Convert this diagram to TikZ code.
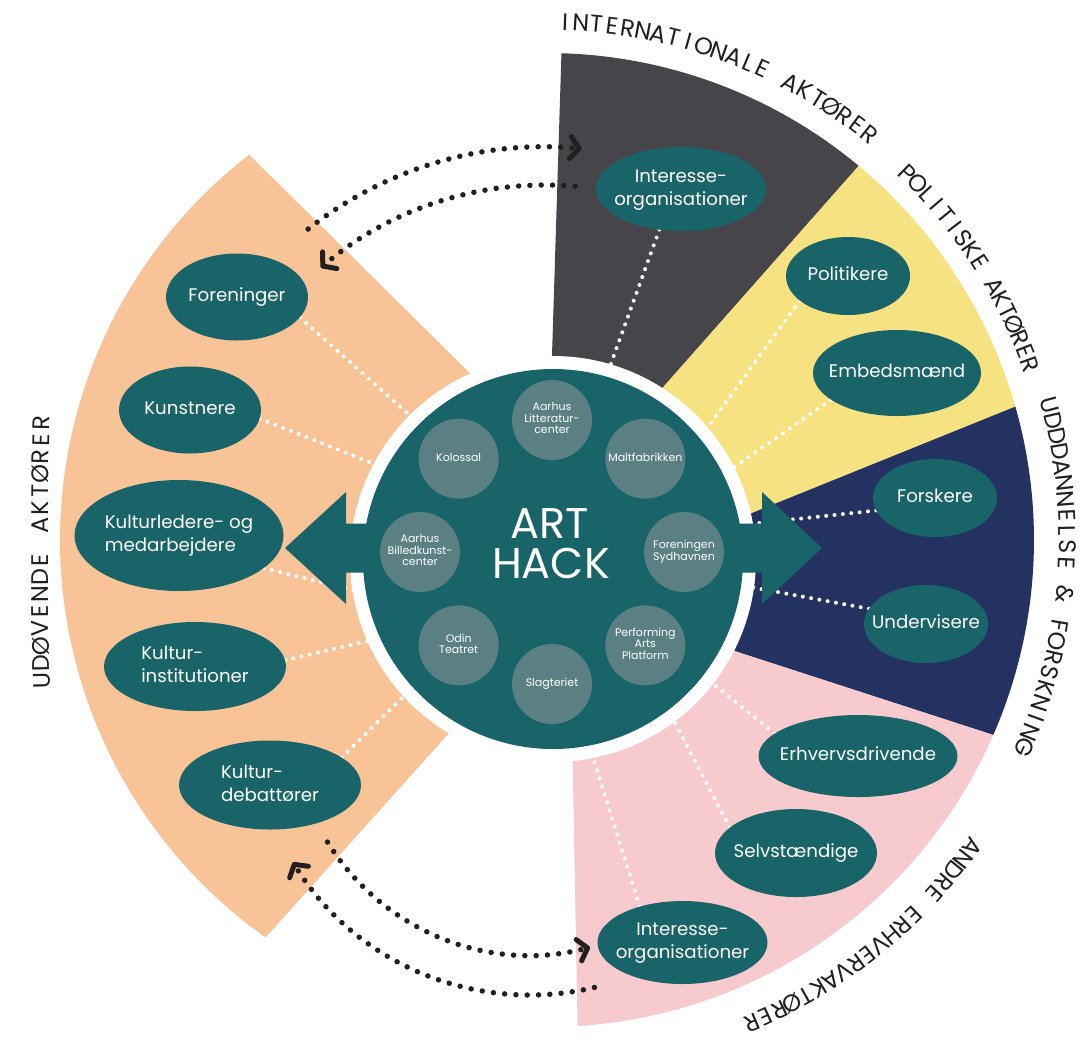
\documentclass[tikz,border=0pt]{standalone}
\usepackage{fontspec}
\setmainfont{Poppins}
\usetikzlibrary{shapes.geometric,arrows.meta,calc}
\definecolor{cPeach}{RGB}{249,195,152}
\definecolor{cDark}{RGB}{70,69,74}
\definecolor{cYellow}{RGB}{246,226,128}
\definecolor{cNavy}{RGB}{35,50,96}
\definecolor{cPink}{RGB}{247,202,205}
\definecolor{cTeal}{RGB}{24,100,105}
\definecolor{cSmall}{RGB}{90,128,132}
\definecolor{cInk}{RGB}{35,31,32}
\newcommand{\mkc}[1]{\makebox[0pt]{\begin{tabular}{@{}c@{}}#1\end{tabular}}}
\newcommand{\mkl}[1]{\makebox[0pt]{\begin{tabular}{@{}l@{}}#1\end{tabular}}}
\newlength{\chw}
\newcommand{\lblfont}{\fontsize{24}{24}\selectfont}
% #1 centre, #2 radius, #3 start angle, #4 end angle, #5 name prefix, #6 list of characters
\newcommand{\arclabel}[6]{%
  \gdef\myacc{0}\gdef\mycnt{0}%
  \foreach \ch in {#6}{\settowidth{\chw}{\lblfont\ch}\pgfmathsetmacro{\mytmp}{\myacc+\chw}\xdef\myacc{\mytmp}\pgfmathtruncatemacro{\mytmpc}{\mycnt+1}\xdef\mycnt{\mytmpc}}%
  \pgfmathsetmacro{\mylen}{((#4)-(#3))*pi/180*(#2)}%
  \pgfmathsetmacro{\mytrk}{(\mylen-\myacc)/(\mycnt-1)}%
  \gdef\myacc{0}%
  \foreach \ch [count=\k] in {#6}{%
    \settowidth{\chw}{\lblfont\ch}%
    \pgfmathsetmacro{\myang}{(#3)+(\myacc+0.5*\chw)/(#2)*180/pi}%
    \pgfmathsetmacro{\myrot}{-(\myang)-90}%
    \node[text=cInk, font=\lblfont, anchor=base, inner sep=0pt, outer sep=0pt, rotate=\myrot] (#5-\k) at ($(#1)+(\myang:#2)$) {\ch};%
    \pgfmathsetmacro{\mytmp}{\myacc+\chw+\mytrk}\xdef\myacc{\mytmp}%
  }}
\pgfdeclarelayer{bg}
\pgfdeclarelayer{lines}
\pgfdeclarelayer{hub}
\pgfsetlayers{bg,lines,hub,main}
\begin{document}
\begin{tikzpicture}[x=1pt,y=-1pt,
  ell/.style={ellipse, fill=cTeal, text=white, inner sep=0pt, outer sep=0pt, font=\fontsize{18.2}{23}\selectfont},
  sc/.style={circle, fill=cSmall, text=white, minimum size=80pt, inner sep=0pt, outer sep=0pt, font=\fontsize{11}{11.2}\selectfont},
  wdots/.style={white, line width=4pt, line cap=round, dash pattern=on 0pt off 8.4pt},
  kdots/.style={cInk, line width=5.5pt, line cap=round, dash pattern=on 0pt off 11.3pt, -{Straight Barb[length=9pt,width=22pt,line width=5pt,round]}},
  big/.style={text=white, anchor=base, inner sep=0pt, font=\fontsize{43}{43}\selectfont}
]
\useasboundingbox (0,0) rectangle (1083,1042);
\coordinate (O) at (547,540);
\coordinate (C) at (553,559);
\coordinate (H) at (552,552);
\coordinate (TC) at (545,530);
\coordinate (BC) at (530,717);
\coordinate (LC) at (5048,551);

% ---------- sectors ----------
\begin{pgfonlayer}{bg}
\fill[cDark] (552,355) -- ($(O)+(-88.3:487)$) arc[start angle=-88.3, end angle=-50.2, radius=487]
  -- (663.6,386.7) -- (600,459) -- (547.4,500) -- cycle;
\fill[cYellow] ($(O)+(-50.2:487)$) arc[start angle=-50.2, end angle=-15.9, radius=487]
  -- (752,513) -- (649.4,554.5) -- (600,459) -- (663.6,386.7) -- cycle;
\fill[cNavy] ($(O)+(-15.9:487)$) arc[start angle=-15.9, end angle=23.6, radius=487]
  -- (731.4,650) -- (627,616) -- (649.4,554.5) -- (752,513) -- cycle;
\fill[cPink] ($(O)+(23.6:487)$) arc[start angle=23.6, end angle=86.4, radius=487]
  -- (572.5,754) -- (570,650) -- (627,616) -- (731.4,650) -- cycle;
\fill[cPeach] ($(O)+(125.3:487)$) arc[start angle=125.3, end angle=232.3, radius=487]
  -- (470,373.3) -- (547.6,450) -- (528,645) -- (453.3,728.3) -- cycle;
\end{pgfonlayer}

% ---------- ellipses ----------
\node[ell, minimum width=170pt, minimum height=84pt] (intT) at (681,189) {\mkc{Interesse-\\organisationer}};
\node[ell, minimum width=124pt, minimum height=78pt] (pol) at (848,276) {\mkc{Politikere}};
\node[ell, minimum width=168pt, minimum height=86pt] (emb) at (897,373) {\mkc{Embedsmænd}};
\node[ell, minimum width=124pt, minimum height=78pt] (forsk) at (935,498) {\mkc{Forskere}};
\node[ell, minimum width=124pt, minimum height=78pt] (underv) at (926,624) {\mkc{Undervisere}};
\node[ell, minimum width=199pt, minimum height=82pt] (erhv) at (858,756) {\mkc{Erhvervsdrivende}};
\node[ell, minimum width=162pt, minimum height=88pt] (selv) at (796,853) {\mkc{Selvstændige}};
\node[ell, minimum width=170pt, minimum height=83pt] (intB) at (682.5,942.5) {\mkc{Interesse-\\organisationer}};
\node[ell, minimum width=142pt, minimum height=87pt] (foren) at (237,297) {\mkc{Foreninger}};
\node[ell, minimum width=142pt, minimum height=87pt] (kunst) at (190,410) {\mkc{Kunstnere}};
\node[ell, minimum width=209pt, minimum height=111pt] (kultl) at (179,535.5) {\mkl{Kulturledere- og\\medarbejdere}};
\node[ell, minimum width=182pt, minimum height=89pt] (kinst) at (195,666.5) {\mkl{Kultur-\\institutioner}};
\node[ell, minimum width=182pt, minimum height=89pt] (kdeb) at (270,785) {\mkl{Kultur-\\debattører}};

% ---------- white dotted connectors ----------
\coordinate (e1) at (609,369);
\coordinate (e2) at (705,431);
\coordinate (e3) at (730,470);
\coordinate (e4) at (750,524);
\coordinate (e5) at (750,587);
\coordinate (e6) at (711,682);
\coordinate (e7) at (672,717);
\coordinate (e8) at (592,754);
\coordinate (e9) at (414,419);
\coordinate (e10) at (377,465);
\coordinate (e11) at (357,591);
\coordinate (e12) at (372,640);
\coordinate (e13) at (407,693);
\begin{pgfonlayer}{lines}
\draw[wdots] (intT.-118) -- (e1);
\draw[wdots] (pol.-153) -- (e2);
\draw[wdots] (emb.-158.3) -- (e3);
\draw[wdots] (forsk.-168.5) -- (e4);
\draw[wdots] (underv.165.3) -- (e5);
\draw[wdots] (erhv.165.4) -- (e6);
\draw[wdots] (selv.159) -- (e7);
\draw[wdots] (intB.140.2) -- (e8);
\draw[wdots] (foren.-18.4) -- (e9);
\draw[wdots] (kunst.-7.9) -- (e10);
\draw[wdots] (kultl.-21.3) -- (e11);
\draw[wdots] (kinst.4.1) -- (e12);
\draw[wdots] (kdeb.21.5) -- (e13);
\end{pgfonlayer}

% ---------- hub ----------
\begin{pgfonlayer}{hub}
\fill[white] (C) circle[radius=203pt];
\fill[cTeal] (C) circle[radius=190pt];
\fill[cTeal] (380,523.5) -- (346,523.5) -- (346,492) -- (285,548) -- (346,604) -- (346,572.5) -- (380,572.5) -- cycle;
\fill[cTeal] (726,523.5) -- (762,523.5) -- (762,492) -- (822,548) -- (762,604) -- (762,572.5) -- (726,572.5) -- cycle;
\node[sc] (s1) at ($(H)+(-90:132)$) {\mkc{Aarhus\\Litteratur-\\center}};
\node[sc] (s2) at ($(H)+(-45:132)$) {\mkc{Maltfabrikken}};
\node[sc] (s3) at ($(H)+(0:132)$) {\mkc{Foreningen\\Sydhavnen}};
\node[sc] (s4) at ($(H)+(45:132)$) {\mkc{Performing\\Arts\\Platform}};
\node[sc] (s5) at ($(H)+(90:132)$) {\mkc{Slagteriet}};
\node[sc] (s6) at ($(H)+(135:132)$) {\mkc{Odin\\Teatret}};
\node[sc] (s7) at ($(H)+(180:132)$) {\mkc{Aarhus\\Billedkunst-\\center}};
\node[sc] (s8) at ($(H)+(225:132)$) {\mkc{Kolossal}};
\node[big] (art) at (550,538) {ART};
\node[big] (hack) at (551,578) {HACK};
\end{pgfonlayer}

% ---------- black dotted arcs ----------
\coordinate (tA) at ($(TC)+(-128.2:383)$);
\coordinate (tB) at ($(TC)+(-85:345)$);
\coordinate (bA) at ($(BC)+(148.3:238)$);
\coordinate (bB) at ($(BC)+(76.6:278)$);
\draw[kdots] (tA) arc[start angle=-128.2, end angle=-84.5, radius=383];
\draw[kdots] (tB) arc[start angle=-85, end angle=-130.5, radius=345];
\draw[kdots] (bA) arc[start angle=148.3, end angle=75.4, radius=238];
\draw[kdots] (bB) arc[start angle=76.6, end angle=148.5, radius=278];

% ---------- sector labels ----------
\arclabel{O}{510}{-88}{-51.5}{la}{I,N,T,E,R,N,A,T,I,O,N,A,L,E,\space,A,K,T,Ø,R,E,R}
\arclabel{O}{506}{-45.5}{-20}{lb}{P,O,L,I,T,I,S,K,E,\space,A,K,T,Ø,R,E,R}
\arclabel{O}{512}{-15}{23.5}{lc}{U,D,D,D,A,N,N,E,L,S,E,\space,\&,\space,F,O,R,S,K,N,I,N,G}
\arclabel{O}{516}{35.8}{67}{ld}{A,N,D,R,E,\space,E,R,H,V,E,R,V,A,K,T,Ø,R,E,R}
\arclabel{LC}{5000}{178.52}{181.47}{le}{U,D,Ø,V,E,N,D,E,\space,A,K,T,Ø,R,E,R}
\end{tikzpicture}
\end{document}
